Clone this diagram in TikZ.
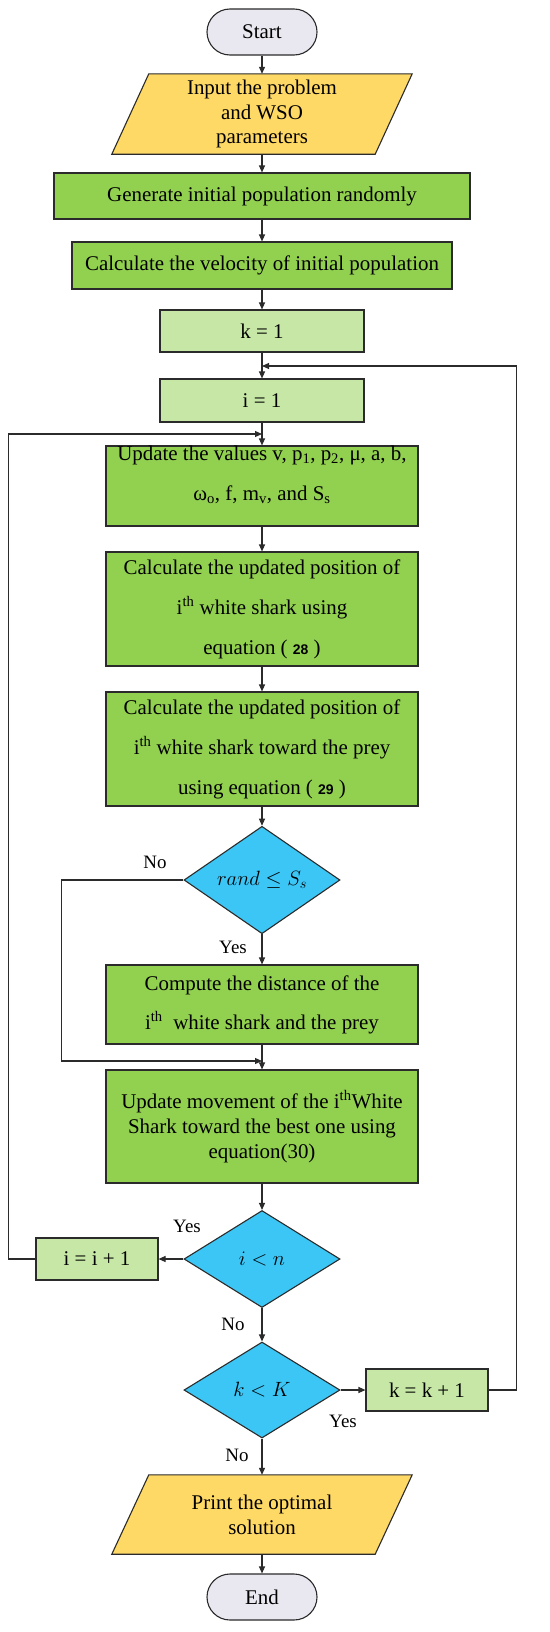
\documentclass[tikz,border=0pt]{standalone}
\usepackage{fontspec}
\setmainfont{Liberation Serif}
\newfontfamily\numfont{Liberation Sans}
\usetikzlibrary{shapes.geometric,arrows.meta,backgrounds}
\definecolor{linec}{HTML}{2B2B2B}
\definecolor{termc}{HTML}{E9E8F0}
\definecolor{ioc}{HTML}{FFD966}
\definecolor{procc}{HTML}{92D050}
\definecolor{initc}{HTML}{C6E7A6}
\definecolor{decc}{HTML}{3CC6F6}
\newcommand\fbig{\fontsize{21}{25}\selectfont}
\newcommand\flab{\fontsize{19}{22}\selectfont}
\newcommand\eqn[1]{{\numfont\bfseries\fontsize{14}{14}\selectfont #1}}
\tikzset{
  base/.style={draw=linec, line width=1.1bp, inner sep=0pt, align=center, font=\fbig},
  term/.style={base, fill=termc, rounded corners=23bp, minimum width=110bp, minimum height=46bp},
  io/.style={inner sep=0pt, align=center, font=\fbig, minimum width=300bp, minimum height=80bp},
  iobox/.style={draw=linec, line width=1.1bp, fill=ioc},
  proc/.style={base, fill=procc},
  init/.style={base, fill=initc},
  dec/.style={base, diamond, fill=decc, minimum width=156bp, minimum height=97bp},
  arr/.style={line width=1.1bp, draw=linec, -{Triangle[length=7bp,width=6bp]}},
  lbl/.style={font=\flab, inner sep=0pt}
}
\begin{document}
\begin{tikzpicture}[x=1bp,y=-1bp]
\useasboundingbox (0,0) rectangle (550,1632);

\node[term] (start) at (262,32) {Start};
\node[io] (in) at (262,114) {Input the problem\\and WSO\\parameters};
\node[proc, minimum width=416bp, minimum height=46bp] (gen) at (262,196) {Generate initial population randomly};
\node[proc, minimum width=380bp, minimum height=47bp] (vel) at (262,265.5) {Calculate the velocity of initial population};
\node[init, minimum width=204bp, minimum height=42bp] (k1) at (262,331) {k = 1};
\node[init, minimum width=204bp, minimum height=43bp] (i1) at (262,400.5) {i = 1};
\node[proc, minimum width=312bp, minimum height=80bp] (upd) at (262,486)
  {\parbox[c][80bp][t]{312bp}{\centering Update the values v, p\textsubscript{1}, p\textsubscript{2}, μ, a, b,\\[15bp]
   ω\textsubscript{o}, f, m\textsubscript{v}, and S\textsubscript{s}}};
\node[proc, minimum width=312bp, minimum height=114bp] (c1) at (262,609)
  {Calculate the updated position of\\[15bp] i\textsuperscript{th} white shark using\\[15bp] equation ( \eqn{28} )};
\node[proc, minimum width=312bp, minimum height=114bp] (c2) at (262,749)
  {Calculate the updated position of\\[15bp] i\textsuperscript{th} white shark toward the prey\\[15bp] using equation ( \eqn{29} )};
\node[dec] (d1) at (262,880) {$rand \le S_s$};
\node[proc, minimum width=312bp, minimum height=79bp] (comp) at (262,1004.5)
  {Compute the distance of the\\[14bp] i\textsuperscript{th}\ \ white shark and the prey};
\node[proc, minimum width=312bp, minimum height=113bp] (umv) at (262,1126.5)
  {Update movement of the i\textsuperscript{th}White\\Shark toward the best one using\\equation(30)};
\node[dec] (d2) at (262,1259) {$i < n$};
\node[init, minimum width=122bp, minimum height=42bp] (ii) at (97,1259) {i = i + 1};
\node[dec, minimum height=96bp] (d3) at (262,1390) {$k < K$};
\node[init, minimum width=122bp, minimum height=42bp] (kk) at (427,1390) {k = k + 1};
\node[io, minimum height=79bp] (out) at (262,1514.5) {Print the optimal\\solution};
\node[term] (end) at (262,1597) {End};

\begin{scope}[on background layer]
\fill[white] (0,0) rectangle (550,1632);
\draw[iobox] (in.south west) -- ([xshift=37bp]in.north west) -- (in.north east) -- ([xshift=-37bp]in.south east) -- cycle;
\draw[iobox] (out.south west) -- ([xshift=37bp]out.north west) -- (out.north east) -- ([xshift=-37bp]out.south east) -- cycle;
\end{scope}

\coordinate (jk) at (262,366);
\coordinate (ji) at (262,434);
\coordinate (jn) at (262,1061);

\node[lbl] (lno1) at (155,862) {No};
\node[lbl] (lyes1) at (233,947) {Yes};
\node[lbl] (lyes2) at (187,1226) {Yes};
\node[lbl] (lno2) at (233,1324) {No};
\node[lbl] (lyes3) at (343,1421) {Yes};
\node[lbl] (lno3) at (237,1455) {No};

\draw[arr] (start) -- (in);
\draw[arr] (in) -- (gen);
\draw[arr] (gen) -- (vel);
\draw[arr] (vel) -- (k1);
\draw[arr] (k1) -- (i1);
\draw[arr] (i1) -- (upd);
\draw[arr] (upd) -- (c1);
\draw[arr] (c1) -- (c2);
\draw[arr] (c2) -- (d1);
\draw[arr] (d1) -- (comp);
\draw[arr] (comp) -- (umv);
\draw[arr] (umv) -- (d2);
\draw[arr] (d2) -- (ii);
\draw[arr] (d2) -- (d3);
\draw[arr] (d3) -- (kk);
\draw[arr] (d3) -- (out);
\draw[arr] (out) -- (end);
\draw[arr] (d1.west) -- ++(-122,0) |- (jn);
\draw[arr] (ii.west) -- ++(-27,0) |- (ji);
\draw[arr] (kk.east) -- ++(28,0) |- (jk);
\end{tikzpicture}
\end{document}
